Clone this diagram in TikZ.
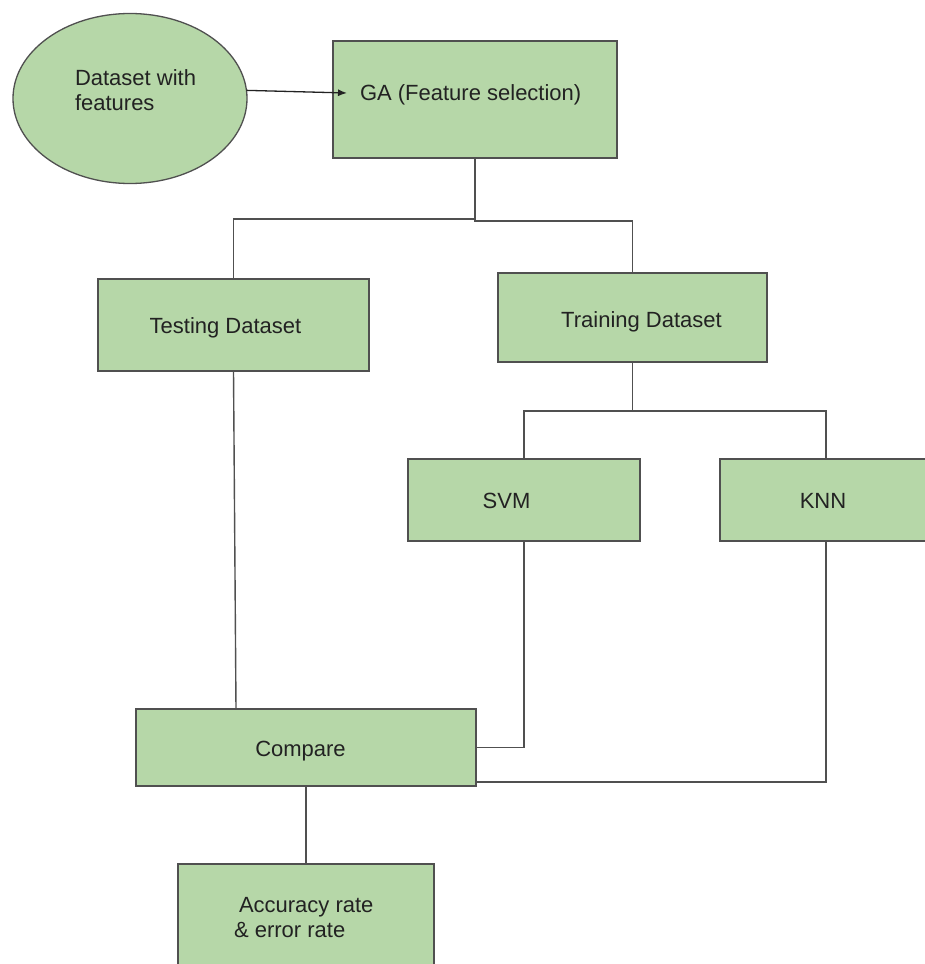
\documentclass[tikz,border=0pt]{standalone}
\usepackage{fontspec}
\setmainfont{Liberation Sans}
\usetikzlibrary{shapes.geometric,arrows.meta,calc}

\definecolor{boxfill}{HTML}{B6D7A8}
\definecolor{edgegray}{HTML}{505050}
\definecolor{inkdark}{HTML}{222222}

\tikzset{
  stagebox/.style={draw=edgegray, fill=boxfill, line width=1.4pt,
    rectangle, inner sep=0pt, outer sep=0pt},
  sourceblob/.style={draw=edgegray, fill=boxfill, line width=1.3pt,
    ellipse, inner sep=0pt, outer sep=0pt,
    minimum width=234pt, minimum height=170pt},
  lbl/.style={inner sep=0pt, outer sep=0pt, text=inkdark,
    font=\fontsize{22}{25}\selectfont},
  wire/.style={draw=edgegray, line width=1.4pt},
  pointer/.style={draw=inkdark, line width=1.3pt,
    -{Latex[length=9pt,width=7pt]}},
}

\begin{document}
\begin{tikzpicture}[x=1pt, y=-1pt]
  % page
  \fill[white] (0,0) rectangle (924,964);
  \useasboundingbox (0,0) rectangle (924,964);

  % shapes
  \node[sourceblob] (src) at (130,98.5) {};
  \node[stagebox, minimum width=284pt, minimum height=117pt] (ga)    at (475,99.5)  {};
  \node[stagebox, minimum width=271pt, minimum height=92pt]  (test)  at (233.5,325) {};
  \node[stagebox, minimum width=269pt, minimum height=89pt]  (train) at (632.5,317.5) {};
  \node[stagebox, minimum width=232pt, minimum height=82pt]  (svm)   at (524,500)   {};
  \node[stagebox, minimum width=260pt, minimum height=82pt]  (knn)   at (850,500)   {};
  \node[stagebox, minimum width=340pt, minimum height=77pt]  (cmp)   at (306,747.5) {};
  \node[stagebox, minimum width=256pt, minimum height=106pt] (acc)   at (306,917)   {};

  % labels
  \node[lbl, anchor=base west] (srcA) at (75,85)  {Dataset with};
  \node[lbl, anchor=base west] (srcB) at (75,110) {features};
  \node[lbl, anchor=base west] (gaT)  at (360,100) {GA (Feature selection)};
  \node[lbl, anchor=base] (testT)  at (225.5,333) {Testing Dataset};
  \node[lbl, anchor=base] (trainT) at (641.5,327) {Training Dataset};
  \node[lbl, anchor=base] (svmT)   at (506.5,508) {SVM};
  \node[lbl, anchor=base] (knnT)   at (823,508)   {KNN};
  \node[lbl, anchor=base] (cmpT)   at (300.5,756) {Compare};
  \node[lbl, anchor=base west] (accA) at (239,912) {Accuracy rate};
  \node[lbl, anchor=base west] (accB) at (234,937) {\& error rate};

  % connector end points; the KNN box runs past the page edge,
  % so its wires are placed on the column under its label
  \coordinate (gaTip) at (347,93);
  \coordinate (cmpLow) at ($(cmp.south east)+(0,-4)$);
  \coordinate (cmpTop) at ($(cmp.north west)+(100,0)$);
  \coordinate (knnTop) at ($(knn.north west)+(106,0)$);
  \coordinate (knnBot) at ($(knn.south west)+(106,0)$);

  % connectors
  \draw[pointer] (src.4) -- (gaTip);
  \draw[wire] (ga.south) -- ++(0,61) -| (test.north);
  \draw[wire] (ga.south) -- ++(0,63) -| (train.north);
  \draw[wire] (train.south) -- ++(0,49) -| (svm.north);
  \draw[wire] (train.south) -- ++(0,49) -| (knnTop);
  \draw[wire] (test.south) -- (cmpTop);
  \draw[wire] (svm.south) |- (cmp.east);
  \draw[wire] (knnBot) |- (cmpLow);
  \draw[wire] (cmp.south) -- (acc.north);
\end{tikzpicture}
\end{document}
